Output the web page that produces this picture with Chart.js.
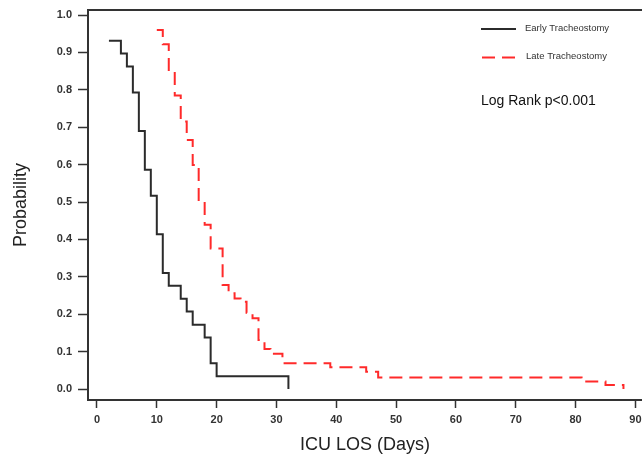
<!DOCTYPE html>
<html>
<head>
<meta charset="utf-8">
<script src="https://cdn.jsdelivr.net/npm/chart.js@4"></script>
<style>
  html, body { margin: 0; padding: 0; background: #fff; overflow: hidden; }
  canvas { display: block; }
</style>
</head>
<body>
<canvas id="kmChart" width="642" height="462"></canvas>
<script>
// Kaplan-Meier style curves
const earlyDays = [2, 4, 5, 6, 7, 8, 9, 10, 11, 12, 14, 15, 16, 18, 19, 20, 32];
const earlyProb = [0.931, 0.897, 0.862, 0.793, 0.690, 0.586, 0.517, 0.414, 0.310, 0.276, 0.241, 0.207, 0.172, 0.138, 0.069, 0.034, 0.0];

const lateDays = [10, 11, 12, 13, 14, 15, 16, 17, 18, 19, 21, 22, 23, 24, 25, 26, 27, 28, 29, 31, 39, 45, 47, 81, 85, 88];
const lateProb = [0.960, 0.922, 0.848, 0.785, 0.715, 0.666, 0.599, 0.501, 0.439, 0.376, 0.278, 0.256, 0.242, 0.233, 0.204, 0.189, 0.131, 0.107, 0.094, 0.069, 0.058, 0.046, 0.031, 0.020, 0.011, 0.0];

const xTicks = [0, 10, 20, 30, 40, 50, 60, 70, 80, 90];
const yTicks = [0.0, 0.1, 0.2, 0.3, 0.4, 0.5, 0.6, 0.7, 0.8, 0.9, 1.0];

const seriesNames = ["Early Tracheostomy", "Late Tracheostomy"];
const noteText = "Log Rank p<0.001";

const FONT = "'Liberation Sans', Arial, sans-serif";
const AXIS = "#333";

function toPoints(xs, ys) {
    return xs.map((x, i) => ({ x: x, y: ys[i] }));
}

// top frame line, legend and log-rank note
const annotations = {
    id: "annotations",
    afterDraw(chart) {
        const ctx = chart.ctx;
        const area = chart.chartArea;
        ctx.save();
        ctx.strokeStyle = AXIS;
        ctx.lineWidth = 2;
        ctx.beginPath();
        ctx.moveTo(area.left - 1, area.top);
        ctx.lineTo(area.right, area.top);
        ctx.stroke();

        // legend
        ctx.lineWidth = 2;
        ctx.strokeStyle = "#2b2b2b";
        ctx.beginPath();
        ctx.moveTo(481, 29);
        ctx.lineTo(516, 29);
        ctx.stroke();

        ctx.strokeStyle = "#ff2a2a";
        ctx.setLineDash([13, 7]);
        ctx.beginPath();
        ctx.moveTo(482, 57.5);
        ctx.lineTo(516, 57.5);
        ctx.stroke();
        ctx.setLineDash([]);

        ctx.fillStyle = "#333";
        ctx.textBaseline = "middle";
        ctx.textAlign = "left";
        ctx.font = "9.5px " + FONT;
        ctx.fillText(seriesNames[0], 525, 28.5);
        ctx.fillText(seriesNames[1], 526, 56.5);

        ctx.fillStyle = "#111";
        ctx.font = "14px " + FONT;
        ctx.fillText(noteText, 481, 101);
        ctx.restore();
    }
};

new Chart(document.getElementById("kmChart"), {
    type: "line",
    data: {
        datasets: [
            {
                label: seriesNames[0],
                data: toPoints(earlyDays, earlyProb),
                borderColor: "#2b2b2b",
                borderWidth: 2,
                stepped: "before",
                pointRadius: 0,
                fill: false
            },
            {
                label: seriesNames[1],
                data: toPoints(lateDays, lateProb),
                borderColor: "#ff2a2a",
                borderWidth: 2,
                borderDash: [13, 7],
                stepped: "before",
                pointRadius: 0,
                fill: false
            }
        ]
    },
    options: {
        responsive: false,
        animation: false,
        devicePixelRatio: 1,
        layout: { padding: { top: 10, left: 0, right: 0, bottom: 0 } },
        plugins: {
            legend: { display: false },
            tooltip: { enabled: false }
        },
        scales: {
            x: {
                type: "linear",
                min: -1.5,
                max: 91.1,
                afterBuildTicks: s => { s.ticks = xTicks.map(v => ({ value: v })); },
                afterFit: s => { s.height = 62; s.paddingLeft = 0; s.paddingRight = 0; },
                ticks: {
                    color: AXIS,
                    padding: 5,
                    maxRotation: 0,
                    font: { family: FONT, size: 11, weight: "bold" },
                    callback: v => String(v)
                },
                grid: {
                    display: true,
                    drawOnChartArea: false,
                    drawTicks: true,
                    tickLength: 8,
                    tickColor: AXIS,
                    tickWidth: 1.5
                },
                border: { display: true, color: AXIS, width: 2 },
                title: {
                    display: true,
                    text: "ICU LOS (Days)",
                    color: "#222",
                    font: { family: FONT, size: 18 },
                    padding: { top: 0, bottom: 6 }
                }
            },
            y: {
                type: "linear",
                min: -0.0294,
                max: 1.0134,
                afterBuildTicks: s => { s.ticks = yTicks.map(v => ({ value: v })); },
                afterFit: s => { s.width = 88; s.paddingTop = 0; s.paddingBottom = 0; },
                ticks: {
                    color: AXIS,
                    padding: 6,
                    font: { family: FONT, size: 11, weight: "bold" },
                    callback: v => Number(v).toFixed(1)
                },
                grid: {
                    display: true,
                    drawOnChartArea: false,
                    drawTicks: true,
                    tickLength: 10,
                    tickColor: AXIS,
                    tickWidth: 1.5
                },
                border: { display: true, color: AXIS, width: 2 },
                title: {
                    display: true,
                    text: "Probability",
                    color: "#222",
                    font: { family: FONT, size: 18 },
                    padding: { top: 10, bottom: 0 }
                }
            }
        }
    },
    plugins: [annotations]
});
</script>
</body>
</html>
